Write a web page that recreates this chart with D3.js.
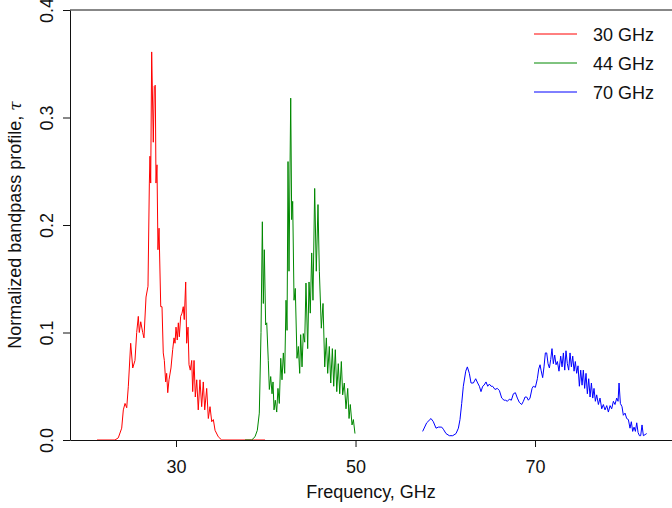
<!DOCTYPE html>
<html>
<head>
<meta charset="utf-8">
<script src="https://cdn.jsdelivr.net/npm/d3@7"></script>
<style>
  body { margin: 0; background: #fff; }
  svg { display: block; font-family: "Liberation Sans", Arial, sans-serif; }
</style>
</head>
<body>
<svg id="chart"></svg>
<script>
// 30 GHz band
const freq30 = [21.20, 23.20, 23.57, 23.95, 24.13, 24.32, 24.51, 24.69, 24.95, 25.18, 25.43, 25.62, 25.80, 25.91, 26.07, 26.29, 26.43, 26.66, 26.88, 27.03, 27.10, 27.18, 27.29, 27.47, 27.58, 27.69, 27.77, 27.88, 27.99, 28.11, 28.30, 28.44, 28.58, 28.70, 28.85, 28.96, 29.08, 29.22, 29.44, 29.63, 29.78, 29.89, 30.00, 30.14, 30.26, 30.37, 30.52, 30.67, 30.81, 30.92, 31.08, 31.19, 31.34, 31.45, 31.59, 31.75, 31.86, 32.01, 32.15, 32.31, 32.48, 32.67, 32.86, 33.04, 33.20, 33.42, 33.60, 33.79, 33.98, 34.16, 34.35, 34.71, 35.09, 39.92];
const tau30 = [0, 0, 0.002, 0.011, 0.028, 0.034, 0.030, 0.050, 0.090, 0.067, 0.074, 0.100, 0.115, 0.100, 0.110, 0.100, 0.095, 0.133, 0.143, 0.239, 0.264, 0.239, 0.361, 0.277, 0.329, 0.330, 0.239, 0.256, 0.177, 0.197, 0.124, 0.124, 0.081, 0.074, 0.054, 0.062, 0.044, 0.056, 0.067, 0.084, 0.095, 0.090, 0.105, 0.093, 0.109, 0.096, 0.115, 0.118, 0.124, 0.112, 0.147, 0.090, 0.105, 0.070, 0.065, 0.074, 0.045, 0.074, 0.040, 0.056, 0.028, 0.056, 0.031, 0.054, 0.028, 0.048, 0.020, 0.031, 0.017, 0.019, 0.009, 0.003, 0, 0];

// 44 GHz band
const freq44 = [37.69, 38.43, 38.80, 39.06, 39.28, 39.47, 39.62, 39.73, 39.84, 39.99, 40.11, 40.28, 40.40, 40.55, 40.70, 40.81, 40.92, 41.06, 41.22, 41.36, 41.51, 41.67, 41.81, 41.96, 42.11, 42.26, 42.37, 42.48, 42.59, 42.78, 42.89, 43.00, 43.15, 43.29, 43.48, 43.63, 43.78, 43.89, 44.04, 44.18, 44.34, 44.48, 44.67, 44.82, 44.96, 45.12, 45.26, 45.45, 45.63, 45.82, 45.97, 46.19, 46.38, 46.57, 46.75, 46.90, 47.08, 47.24, 47.42, 47.57, 47.75, 47.91, 48.08, 48.24, 48.42, 48.57, 48.75, 48.94, 49.13, 49.28, 49.42, 49.61, 49.76, 49.94];
const tau44 = [0, 0, 0.003, 0.009, 0.025, 0.100, 0.203, 0.127, 0.177, 0.107, 0.109, 0.074, 0.047, 0.059, 0.043, 0.054, 0.028, 0.037, 0.026, 0.048, 0.034, 0.076, 0.056, 0.081, 0.062, 0.130, 0.102, 0.259, 0.157, 0.318, 0.205, 0.222, 0.130, 0.141, 0.076, 0.087, 0.062, 0.098, 0.068, 0.099, 0.091, 0.146, 0.085, 0.147, 0.118, 0.174, 0.130, 0.234, 0.157, 0.219, 0.157, 0.104, 0.127, 0.068, 0.095, 0.062, 0.087, 0.053, 0.085, 0.050, 0.084, 0.045, 0.071, 0.043, 0.073, 0.042, 0.053, 0.029, 0.048, 0.020, 0.033, 0.014, 0.019, 0.006];

// 70 GHz band
const freq70 = [57.48, 57.93, 58.41, 58.67, 58.97, 59.23, 59.42, 59.60, 59.79, 60.08, 60.45, 60.83, 61.20, 61.46, 61.64, 61.83, 62.01, 62.28, 62.46, 62.68, 62.87, 63.13, 63.39, 63.61, 63.80, 63.98, 64.17, 64.32, 64.54, 64.73, 64.91, 65.10, 65.28, 65.54, 65.80, 66.03, 66.29, 66.55, 66.73, 66.92, 67.14, 67.36, 67.59, 67.81, 68.03, 68.25, 68.51, 68.70, 68.89, 69.07, 69.26, 69.44, 69.67, 69.81, 70.04, 70.26, 70.41, 70.56, 70.67, 70.85, 71.00, 71.15, 71.30, 71.45, 71.60, 71.75, 71.89, 72.04, 72.19, 72.34, 72.49, 72.67, 72.86, 73.01, 73.16, 73.31, 73.45, 73.60, 73.75, 73.90, 74.05, 74.20, 74.35, 74.49, 74.64, 74.79, 74.94, 75.09, 75.24, 75.38, 75.53, 75.68, 75.83, 75.98, 76.13, 76.28, 76.43, 76.57, 76.72, 76.87, 77.06, 77.24, 77.43, 77.61, 77.80, 77.99, 78.17, 78.36, 78.54, 78.73, 78.91, 79.10, 79.25, 79.36, 79.51, 79.69, 79.84, 80.03, 80.21, 80.40, 80.58, 80.73, 80.88, 81.03, 81.18, 81.33, 81.48, 81.63, 81.77, 81.92, 82.07, 82.26, 82.44];
const tau70 = [0.008, 0.016, 0.020, 0.017, 0.011, 0.012, 0.012, 0.012, 0.010, 0.006, 0.004, 0.004, 0.006, 0.011, 0.019, 0.034, 0.050, 0.064, 0.068, 0.062, 0.053, 0.053, 0.057, 0.053, 0.050, 0.045, 0.050, 0.051, 0.054, 0.050, 0.052, 0.050, 0.050, 0.047, 0.048, 0.046, 0.039, 0.037, 0.037, 0.036, 0.038, 0.037, 0.043, 0.044, 0.039, 0.035, 0.033, 0.036, 0.040, 0.040, 0.037, 0.039, 0.048, 0.050, 0.049, 0.057, 0.066, 0.070, 0.065, 0.058, 0.068, 0.081, 0.081, 0.071, 0.067, 0.075, 0.085, 0.071, 0.079, 0.070, 0.073, 0.064, 0.078, 0.068, 0.081, 0.065, 0.083, 0.071, 0.065, 0.081, 0.068, 0.078, 0.064, 0.073, 0.062, 0.069, 0.050, 0.065, 0.051, 0.065, 0.048, 0.062, 0.043, 0.057, 0.040, 0.053, 0.039, 0.048, 0.036, 0.042, 0.033, 0.039, 0.029, 0.033, 0.028, 0.032, 0.026, 0.032, 0.029, 0.036, 0.033, 0.039, 0.036, 0.053, 0.034, 0.031, 0.023, 0.025, 0.020, 0.019, 0.011, 0.017, 0.008, 0.012, 0.008, 0.016, 0.007, 0.004, 0.004, 0.014, 0.004, 0.005, 0.006];

const seriesNames = ["30 GHz", "44 GHz", "70 GHz"];
const seriesColors = ["#ff0000", "#008800", "#0000ff"];
const xTicks = [30, 50, 70];
const yTicks = [0, 0.1, 0.2, 0.3, 0.4];

const series = [
  { name: seriesNames[0], color: seriesColors[0], f: freq30, t: tau30 },
  { name: seriesNames[1], color: seriesColors[1], f: freq44, t: tau44 },
  { name: seriesNames[2], color: seriesColors[2], f: freq70, t: tau70 }
];

const W = 672, H = 508;
const margin = { top: 10, right: 0, bottom: 68, left: 70 };

const svg = d3.select("#chart").attr("width", W).attr("height", H);

const x = d3.scaleLinear().domain([18.19, 85.26]).range([margin.left, W - margin.right]);
const y = d3.scaleLinear().domain([0, 0.4]).range([H - margin.bottom, margin.top]);

// lines
const line = d3.line().x(d => x(d[0])).y(d => y(d[1]));
series.forEach(s => {
  svg.append("path")
    .datum(s.f.map((v, i) => [v, s.t[i]]))
    .attr("fill", "none")
    .attr("stroke", s.color)
    .attr("stroke-width", 1)
    .attr("stroke-linejoin", "round")
    .attr("d", line);
});

// x axis
const gx = svg.append("g")
  .attr("transform", `translate(0,${H - margin.bottom})`)
  .call(d3.axisBottom(x).tickValues(xTicks).tickSize(7).tickSizeOuter(0).tickFormat(d3.format("d")));
gx.selectAll("text").attr("y", 33).attr("dy", 0).style("font-size", "18px").attr("fill", "#111");

// y axis, labels turned like R's default
const gy = svg.append("g")
  .attr("transform", `translate(${margin.left},0)`)
  .call(d3.axisLeft(y).tickValues(yTicks).tickSize(7).tickSizeOuter(0).tickFormat(d3.format(".1f")));
gy.selectAll("text")
  .attr("transform", "rotate(-90)")
  .attr("x", 0).attr("y", -17).attr("dy", 0)
  .attr("text-anchor", "middle")
  .style("font-size", "18px").attr("fill", "#111");

svg.selectAll(".domain, .tick line").attr("stroke", "#111");
svg.selectAll(".tick text").style("font-family", "'Liberation Sans', Arial, sans-serif");

// top frame line
svg.append("line")
  .attr("x1", margin.left).attr("x2", W - margin.right)
  .attr("y1", margin.top).attr("y2", margin.top)
  .attr("stroke", "#111");

// axis titles
svg.append("text")
  .attr("x", (margin.left + W - margin.right) / 2)
  .attr("y", 498)
  .attr("text-anchor", "middle")
  .style("font-size", "18px").attr("fill", "#111")
  .text("Frequency, GHz");

const yt = svg.append("text")
  .attr("transform", `translate(21,${(margin.top + H - margin.bottom) / 2}) rotate(-90)`)
  .attr("text-anchor", "middle")
  .style("font-size", "18px").attr("fill", "#111");
yt.append("tspan").text("Normalized bandpass profile, ");
yt.append("tspan").style("font-style", "italic").style("font-family", "'DejaVu Serif', serif").style("font-size", "17px").text("τ");

// legend
const lg = svg.append("g").attr("transform", "translate(534,34)");
series.forEach((s, i) => {
  const row = lg.append("g").attr("transform", `translate(0,${i * 29})`);
  row.append("line").attr("x1", 0).attr("x2", 43).attr("y1", 0).attr("y2", 0)
    .attr("stroke", s.color).attr("stroke-width", 1);
  row.append("text").attr("x", 59).attr("y", 7)
    .style("font-size", "18px").attr("fill", "#111")
    .text(s.name);
});
</script>
</body>
</html>
